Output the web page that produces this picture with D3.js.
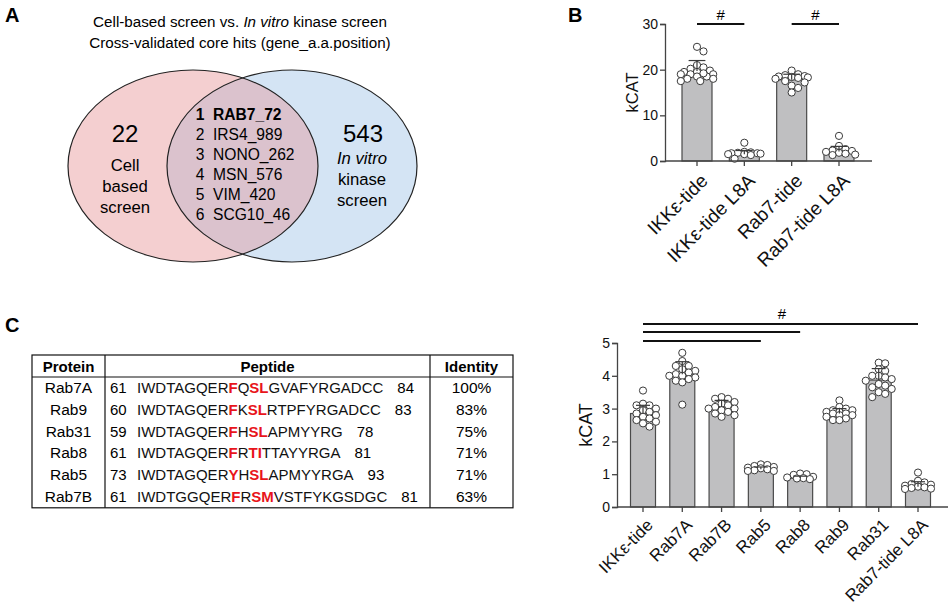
<!DOCTYPE html>
<html><head><meta charset="utf-8">
<script src="https://cdn.jsdelivr.net/npm/d3@7"></script>
<style>
body{margin:0;background:#fff;}
svg{font-family:Arial,"Liberation Sans",sans-serif;}
</style></head>
<body><svg id="c" width="951" height="606"></svg>
<script>
// ---------- Panel A data ----------
const vennTitle = ["Cell-based screen vs. ", "In vitro", " kinase screen"];
const vennSubtitle = "Cross-validated core hits (gene_a.a.position)";
const leftCount = "22";
const leftLabel = ["Cell", "based", "screen"];
const rightCount = "543";
const rightLabel = ["In vitro", "kinase", "screen"];
const coreHits = ["RAB7_72", "IRS4_989", "NONO_262", "MSN_576", "VIM_420", "SCG10_46"];

// ---------- Panel B data ----------
const bCategories = ["IKKε-tide", "IKKε-tide L8A", "Rab7-tide", "Rab7-tide L8A"];
const bMeans = [19.7, 1.5, 17.8, 2.1];
const bSD = [2.3, 0.8, 1.2, 1.1];
const bPoints = [
  [25, 24, 21, 20.5, 20.2, 19.8, 19.5, 19.5, 19, 19, 19, 18.5, 18.5, 18, 18, 17.5, 17.5, 19.2],
  [4, 2, 1.9, 1.8, 1.7, 1.7, 1.6, 1.5, 1.5, 1.3, 0.5],
  [19.8, 19, 18.8, 18.6, 18.5, 18.4, 18.3, 18.2, 18, 17.5, 17.2, 16.5, 16, 15],
  [5.5, 3.3, 2.6, 2.3, 2.2, 2.0, 1.8, 1.6, 1.4, 1.3]
];
const bTicks = [0, 10, 20, 30];
const bSig = [[0, 1], [2, 3]];

// ---------- Panel C table ----------
const tableHeaders = ["Protein", "Peptide", "Identity"];
const tableProteins = ["Rab7A", "Rab9", "Rab31", "Rab8", "Rab5", "Rab7B"];
const tableStart = ["61", "60", "59", "61", "73", "61"];
const tableSeq = ["IWDTAGQERFQSLGVAFYRGADCC", "IWDTAGQERFKSLRTPFYRGADCC", "IWDTAGQERFHSLAPMYYRG",
                  "IWDTAGQERFRTITTAYYRGA", "IWDTAGQERYHSLAPMYYRGA", "IWDTGGQERFRSMVSTFYKGSDGC"];
const tableRed = [[9, 11, 12], [9, 11, 12], [9, 11, 12], [9, 11, 12], [9, 11, 12], [9, 11, 12]];
const tableEnd = ["84", "83", "78", "81", "93", "81"];
const tableIdentity = ["100%", "83%", "75%", "71%", "71%", "63%"];

// ---------- Panel C bar chart ----------
const cCategories = ["IKKε-tide", "Rab7A", "Rab7B", "Rab5", "Rab8", "Rab9", "Rab31", "Rab7-tide L8A"];
const cMeans = [2.85, 4.05, 3.05, 1.15, 0.88, 2.85, 3.87, 0.62];
const cSD = [0.25, 0.38, 0.2, 0.07, 0.06, 0.15, 0.35, 0.15];
const cPoints = [
  [3.55, 3.15, 3.1, 3.1, 3.0, 2.95, 2.9, 2.85, 2.8, 2.75, 2.7, 2.65, 2.6, 2.55, 2.45],
  [4.7, 4.45, 4.3, 4.3, 4.2, 4.15, 4.1, 4.05, 4.0, 4.0, 3.95, 3.9, 3.85, 3.8, 3.12],
  [3.35, 3.3, 3.3, 3.2, 3.15, 3.1, 3.05, 3.0, 3.0, 2.95, 2.9, 2.85, 2.8, 2.75],
  [1.3, 1.28, 1.25, 1.22, 1.2, 1.18, 1.15, 1.12, 1.1, 1.1],
  [1.02, 1.0, 0.98, 0.92, 0.9, 0.88, 0.87, 0.85],
  [3.25, 3.05, 3.0, 2.95, 2.95, 2.9, 2.9, 2.85, 2.85, 2.8, 2.8, 2.75, 2.7, 2.65, 2.65],
  [4.4, 4.38, 4.2, 4.15, 4.0, 4.0, 3.95, 3.9, 3.85, 3.75, 3.7, 3.65, 3.6, 3.5, 3.45, 3.35],
  [1.05, 0.8, 0.75, 0.7, 0.68, 0.65, 0.62, 0.6, 0.58, 0.56, 0.55]
];
const cTicks = [0, 1, 2, 3, 4, 5];
const cSig = [[0, 7], [0, 4], [0, 3]];

const svg = d3.select("#c");
const FONT = 'Arial,"Liberation Sans",sans-serif';

// panel letters
[["A", 5, 22], ["B", 568, 22], ["C", 5, 332]].forEach(([t, x, y]) =>
  svg.append("text").attr("x", x).attr("y", y).attr("font-size", 20).attr("font-weight", "bold").text(t));

// ================= Panel A =================
const A = svg.append("g");
const t1 = A.append("text").attr("x", 240).attr("y", 27).attr("text-anchor", "middle").attr("font-size", 15.2);
vennTitle.forEach((s, i) => t1.append("tspan").attr("font-style", i === 1 ? "italic" : null).text(s));
A.append("text").attr("x", 240).attr("y", 48).attr("text-anchor", "middle").attr("font-size", 15.2).text(vennSubtitle);

const L = {cx: 193, cy: 166, rx: 125, ry: 96}, R = {cx: 292, cy: 166, rx: 125, ry: 96};
const defs = svg.append("defs");
defs.append("clipPath").attr("id", "clipL").append("ellipse")
  .attr("cx", L.cx).attr("cy", L.cy).attr("rx", L.rx).attr("ry", L.ry);
A.append("ellipse").attr("cx", L.cx).attr("cy", L.cy).attr("rx", L.rx).attr("ry", L.ry).attr("fill", "#f4cfd0");
A.append("ellipse").attr("cx", R.cx).attr("cy", R.cy).attr("rx", R.rx).attr("ry", R.ry).attr("fill", "#d4e4f4");
A.append("ellipse").attr("clip-path", "url(#clipL)").attr("cx", R.cx).attr("cy", R.cy).attr("rx", R.rx).attr("ry", R.ry).attr("fill", "#dbc2cd");
[L, R].forEach(e => A.append("ellipse").attr("cx", e.cx).attr("cy", e.cy).attr("rx", e.rx).attr("ry", e.ry)
  .attr("fill", "none").attr("stroke", "#222").attr("stroke-width", 1.2));

A.append("text").attr("x", 125).attr("y", 142).attr("text-anchor", "middle").attr("font-size", 24).text(leftCount);
leftLabel.forEach((s, i) => A.append("text").attr("x", 125).attr("y", 171 + i * 21).attr("text-anchor", "middle").attr("font-size", 16.7).text(s));
A.append("text").attr("x", 363).attr("y", 142).attr("text-anchor", "middle").attr("font-size", 24).text(rightCount);
rightLabel.forEach((s, i) => A.append("text").attr("x", 362).attr("y", 164 + i * 21).attr("text-anchor", "middle")
  .attr("font-size", 16.7).attr("font-style", i === 0 ? "italic" : null).text(s));
coreHits.forEach((s, i) => {
  const y = 119.5 + i * 20;
  A.append("text").attr("x", 200).attr("y", y).attr("text-anchor", "middle").attr("font-size", 15.6)
    .attr("font-weight", i === 0 ? "bold" : null).text(i + 1);
  A.append("text").attr("x", 213).attr("y", y).attr("font-size", 15.6)
    .attr("font-weight", i === 0 ? "bold" : null).text(s);
});

// ================= helpers =================
function swarm(values, y, halfW, r) {
  const placed = [];
  const order = values.map((v, i) => i).sort((a, b) => values[b] - values[a]);
  const out = new Array(values.length);
  const step = r * 0.9;
  order.forEach(i => {
    const py = y(values[i]);
    let best = 0, bestOv = Infinity;
    for (let k = 0; k <= 40; k++) {
      const off = (k % 2 ? 1 : -1) * Math.ceil(k / 2) * step;
      if (Math.abs(off) > halfW) continue;
      let ov = 0;
      placed.forEach(p => {
        const d = Math.hypot(p[0] - off, p[1] - py);
        if (d < 2 * r * 0.85) ov += 2 * r * 0.85 - d;
      });
      if (ov < bestOv - 1e-6) { bestOv = ov; best = off; }
      if (ov === 0) break;
    }
    placed.push([best, py]);
    out[i] = best;
  });
  return out;
}

function barChart(g, cfg) {
  const {cats, means, sd, pts, ticks, y, x, barW, axisX0, axisX1, sig, sigY, hashX, hashY, labelSize, lab} = cfg;
  const y0 = y(0);
  cats.forEach((c, i) => {
    g.append("rect").attr("x", x(c) - barW / 2).attr("y", y(means[i])).attr("width", barW)
      .attr("height", y0 - y(means[i])).attr("fill", "#bfbfc1").attr("stroke", "#4a4a4a").attr("stroke-width", 1.2);
  });
  cats.forEach((c, i) => {
    const offs = swarm(pts[i], y, barW / 2 + 2, 3.6);
    pts[i].forEach((v, j) => g.append("circle").attr("cx", x(c) + offs[j]).attr("cy", y(v)).attr("r", 3.6)
      .attr("fill", "#fff").attr("stroke", "#3a3a3a").attr("stroke-width", 1));
  });
  cats.forEach((c, i) => {
    const top = y(means[i] + sd[i]);
    g.append("line").attr("x1", x(c)).attr("x2", x(c)).attr("y1", y(means[i])).attr("y2", top).attr("stroke", "#3a3a3a").attr("stroke-width", 1.2);
    g.append("line").attr("x1", x(c) - barW * 0.28).attr("x2", x(c) + barW * 0.28).attr("y1", top).attr("y2", top).attr("stroke", "#3a3a3a").attr("stroke-width", 1.2);
  });
  const ax = g.append("g").attr("transform", `translate(${axisX0},0)`)
    .call(d3.axisLeft(y).tickValues(ticks).tickSize(5).tickPadding(2).tickFormat(d3.format("d")));
  ax.select(".domain").attr("stroke", "#444").attr("stroke-width", 1.3);
  ax.selectAll(".tick line").attr("stroke", "#444").attr("stroke-width", 1.3);
  ax.selectAll(".tick text").attr("font-size", 14).attr("fill", "#111").attr("font-family", FONT);
  g.append("line").attr("x1", axisX0).attr("x2", axisX1).attr("y1", y0).attr("y2", y0).attr("stroke", "#444").attr("stroke-width", 1.3);
  cats.forEach(c => g.append("line").attr("x1", x(c)).attr("x2", x(c)).attr("y1", y0).attr("y2", y0 + 5).attr("stroke", "#444").attr("stroke-width", 1.3));
  cats.forEach(c => g.append("text").attr("transform", `translate(${x(c) + lab[0]},${y0 + lab[1]}) rotate(-45)`)
    .attr("text-anchor", "end").attr("font-size", labelSize).attr("fill", "#111").text(c));
  g.append("text").attr("transform", `translate(${cfg.ylabX},${(y0 + y(ticks[ticks.length - 1])) / 2}) rotate(-90)`)
    .attr("text-anchor", "middle").attr("font-size", cfg.ylabSize).attr("fill", "#111").text("kCAT");
  sig.forEach((s, k) => {
    g.append("line").attr("x1", x(cats[s[0]])).attr("x2", x(cats[s[1]])).attr("y1", sigY[k]).attr("y2", sigY[k])
      .attr("stroke", "#111").attr("stroke-width", 1.8);
  });
  hashX.forEach(hx => g.append("text").attr("x", hx).attr("y", hashY).attr("text-anchor", "middle").attr("font-size", 15).text("#"));
}

// ================= Panel B =================
const yB = d3.scaleLinear().domain([0, 30]).range([161, 24]);
const xB = d3.scalePoint().domain(bCategories).range([697, 839]);
barChart(svg.append("g"), {
  cats: bCategories, means: bMeans, sd: bSD, pts: bPoints, ticks: bTicks, y: yB, x: xB, barW: 30,
  axisX0: 665, axisX1: 872, sig: bSig, sigY: [24, 24],
  hashX: [(xB(bCategories[0]) + xB(bCategories[1])) / 2, (xB(bCategories[2]) + xB(bCategories[3])) / 2],
  hashY: 20, labelSize: 19, lab: [12, 21], ylabX: 638, ylabSize: 16.5
});

// ================= Panel C table =================
const T = svg.append("g");
const tx0 = 32, tx1 = 513, ty0 = 355, hdrH = 22, rowH = 21.8;
const ty1 = ty0 + hdrH + rowH * tableProteins.length;
const colX = [tx0, 105, 430, tx1];
T.append("rect").attr("x", tx0).attr("y", ty0).attr("width", tx1 - tx0).attr("height", ty1 - ty0).attr("fill", "none").attr("stroke", "#111").attr("stroke-width", 1.2);
T.append("line").attr("x1", tx0).attr("x2", tx1).attr("y1", ty0 + hdrH).attr("y2", ty0 + hdrH).attr("stroke", "#111").attr("stroke-width", 1.2);
[colX[1], colX[2]].forEach(cx => T.append("line").attr("x1", cx).attr("x2", cx).attr("y1", ty0).attr("y2", ty1).attr("stroke", "#111").attr("stroke-width", 1.2));
tableHeaders.forEach((h, i) => T.append("text").attr("x", (colX[i] + colX[i + 1]) / 2).attr("y", ty0 + 16.5)
  .attr("text-anchor", "middle").attr("font-size", 15).attr("font-weight", "bold").text(h));
tableProteins.forEach((p, r) => {
  const yy = ty0 + hdrH + rowH * r + 16;
  T.append("text").attr("x", (colX[0] + colX[1]) / 2).attr("y", yy).attr("text-anchor", "middle").attr("font-size", 15.5).text(p);
  T.append("text").attr("x", 110).attr("y", yy).attr("font-size", 15).text(tableStart[r]);
  const seq = T.append("text").attr("x", 137).attr("y", yy).attr("font-size", 15);
  tableSeq[r].split("").forEach((ch, k) => {
    const red = tableRed[r].includes(k);
    seq.append("tspan").attr("fill", red ? "#e8141b" : "#111").attr("font-weight", red ? "bold" : null).text(ch);
  });
  const len = seq.node().getComputedTextLength();
  T.append("text").attr("x", 137 + len + 14).attr("y", yy).attr("font-size", 15).text(tableEnd[r]);
  T.append("text").attr("x", (colX[2] + colX[3]) / 2).attr("y", yy).attr("text-anchor", "middle").attr("font-size", 15.5).text(tableIdentity[r]);
});

// ================= Panel C bar chart =================
const yC = d3.scaleLinear().domain([0, 5]).range([507, 343]);
const xC = d3.scalePoint().domain(cCategories).range([643, 918]);
barChart(svg.append("g"), {
  cats: cCategories, means: cMeans, sd: cSD, pts: cPoints, ticks: cTicks, y: yC, x: xC, barW: 25,
  axisX0: 617, axisX1: 948, sig: cSig, sigY: [324, 332, 341],
  hashX: [782], hashY: 319, labelSize: 17, lab: [11, 19], ylabX: 592, ylabSize: 18
});
</script></body></html>
